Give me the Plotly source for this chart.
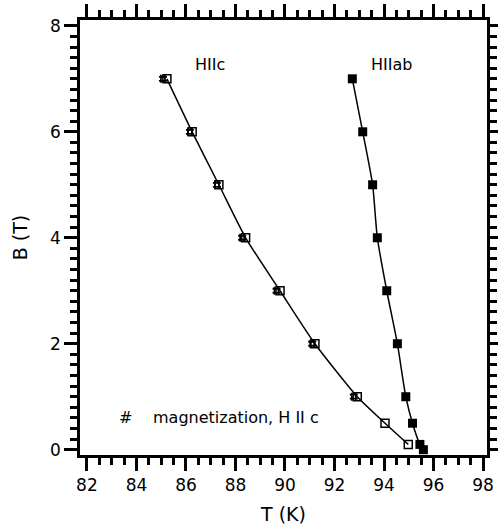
import plotly.graph_objects as go

# Phase boundary, field parallel to c (open squares)
B_c = [7, 6, 5, 4, 3, 2, 1, 0.5, 0.1]
T_c = [85.23, 86.25, 87.33, 88.41, 89.8, 91.21, 92.92, 94.04, 94.98]

# Magnetization points, H || c
B_mag = [7, 6, 5, 4, 3, 2, 1]
T_mag = [85.07, 86.16, 87.25, 88.27, 89.66, 91.1, 92.78]

# Phase boundary, field parallel to ab (filled squares)
B_ab = [7, 6, 5, 4, 3, 2, 1, 0.5, 0.1, 0]
T_ab = [92.72, 93.14, 93.54, 93.73, 94.11, 94.54, 94.88, 95.15, 95.45, 95.59]

x_ticks = [82, 84, 86, 88, 90, 92, 94, 96, 98]
y_ticks = [0, 2, 4, 6, 8]

FONT = "DejaVu Sans, Verdana, sans-serif"

fig = go.Figure()

fig.add_trace(go.Scatter(
    x=T_c, y=B_c, mode="lines+markers",
    line=dict(color="black", width=1.5, shape="spline", smoothing=0.6),
    marker=dict(symbol="square-open", size=8, color="black", line=dict(width=1.5)),
    showlegend=False,
))
fig.add_trace(go.Scatter(
    x=T_mag, y=B_mag, mode="markers",
    marker=dict(symbol="hash", size=8, color="black", line=dict(width=1.8, color="black")),
    showlegend=False,
))
fig.add_trace(go.Scatter(
    x=T_ab, y=B_ab, mode="lines+markers",
    line=dict(color="black", width=1.5, shape="spline", smoothing=0.6),
    marker=dict(symbol="square", size=9, color="black"),
    showlegend=False,
))

# Mirrored frame axes for top/right ticks
fig.add_trace(go.Scatter(x=[90], y=[4], xaxis="x2", yaxis="y2",
                         mode="markers", marker=dict(opacity=0), showlegend=False,
                         hoverinfo="skip"))

xr = [81.72, 98.16]
yr = [-0.1, 8.11]

axis_common = dict(
    showgrid=False, zeroline=False, showline=True, linecolor="black", linewidth=2.5,
    ticks="outside", tickwidth=2.5, tickcolor="black", ticklen=13,
    tickfont=dict(size=17), automargin=False,
)
minor_x = dict(dtick=0.5, ticks="outside", ticklen=7, tickwidth=2.5, tickcolor="black")
minor_y = dict(dtick=0.2, ticks="outside", ticklen=7, tickwidth=2.5, tickcolor="black")

fig.update_layout(
    width=498, height=529,
    margin=dict(l=80, r=11, t=20, b=74),
    plot_bgcolor="white", paper_bgcolor="white",
    font=dict(family=FONT, size=16, color="black"),
    xaxis=dict(
        range=xr, tickvals=x_ticks, ticktext=[str(v) for v in x_ticks],
        title=dict(text="T (K)", font=dict(size=19), standoff=14),
        minor=minor_x, **axis_common,
    ),
    yaxis=dict(
        range=yr, tickvals=y_ticks, ticktext=[str(v) for v in y_ticks],
        title=dict(text="B (T)", font=dict(size=19), standoff=18),
        minor=minor_y, **axis_common,
    ),
    xaxis2=dict(
        range=xr, overlaying="x", side="top", tickvals=x_ticks, showticklabels=False,
        minor=minor_x, **axis_common,
    ),
    yaxis2=dict(
        range=yr, overlaying="y", side="right", tickvals=y_ticks, showticklabels=False,
        minor=minor_y, **axis_common,
    ),
)

fig.add_annotation(x=86.3, y=7.05, text="HIIc", showarrow=False,
                   xanchor="left", yanchor="bottom", font=dict(size=16))
fig.add_annotation(x=93.4, y=7.05, text="HIIab", showarrow=False,
                   xanchor="left", yanchor="bottom", font=dict(size=16))
fig.add_annotation(x=83.55, y=0.6, text="#", showarrow=False,
                   xanchor="center", yanchor="middle", font=dict(size=16))
fig.add_annotation(x=84.6, y=0.6, text="magnetization, H II c", showarrow=False,
                   xanchor="left", yanchor="middle", font=dict(size=16))

fig.write_html("out.html")
